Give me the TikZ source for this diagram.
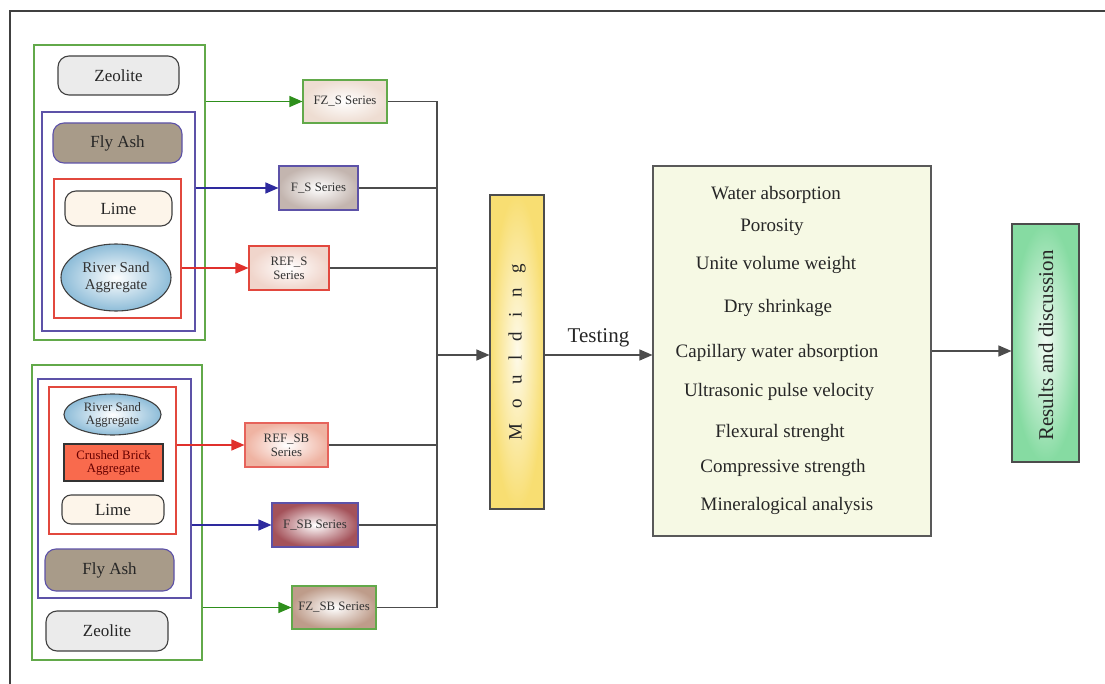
\documentclass[tikz,border=0pt]{standalone}
\usepackage{fontspec}
\setmainfont{Liberation Serif}
\usetikzlibrary{arrows.meta,shapes.geometric}
\definecolor{grn}{HTML}{62A94A}
\definecolor{grnarr}{HTML}{2E8F1C}
\definecolor{blu}{HTML}{5D52A8}
\definecolor{bluarr}{HTML}{2E2A9E}
\definecolor{rd}{HTML}{E2483E}
\definecolor{rdarr}{HTML}{E0302C}
\definecolor{zeo}{HTML}{EBEBEB}
\definecolor{ash}{HTML}{A89B89}
\definecolor{limec}{HTML}{FDF5EA}
\definecolor{brick}{HTML}{F96A4D}
\definecolor{testc}{HTML}{F6F9E4}
\definecolor{sandc}{HTML}{8DBCD8}
\definecolor{mouldc}{HTML}{F8DE72}
\definecolor{resc}{HTML}{86DBA2}
\definecolor{fzsc}{HTML}{EEDDD2}
\definecolor{fsc}{HTML}{C3B5AF}
\definecolor{refsc}{HTML}{F0D5CB}
\definecolor{refsbc}{HTML}{EFB3A2}
\definecolor{fsbc}{HTML}{A4525A}
\definecolor{fzsbc}{HTML}{BE9C8A}
\newcommand\mgap{\hspace{14.5pt}}
\begin{document}
\begin{tikzpicture}[x=1pt,y=-1pt,line width=1.1pt,
  pill/.style={draw=black!75, rounded corners=11pt, inner sep=0pt, font=\fontsize{17}{19}\selectfont, text=black!85},
  sand/.style={ellipse, draw=black!75, inner sep=0pt, shading=radial, inner color=white, outer color=sandc, align=center, text=black!80},
  series/.style={draw, inner sep=0pt, align=center, shading=radial, inner color=white, font=\fontsize{12.8}{14}\selectfont, text=black!80},
  line/.style={draw=black!70},
  arr/.style={-{Triangle[length=13pt,width=11pt]}},
  big/.style={font=\fontsize{19}{21}\selectfont, text=black!85}]
\useasboundingbox (0,0) rectangle (1105,684);
\draw[black!75] (10,684) -- (10,11) -- (1105,11);
% top group
\node[draw=grn, minimum width=171, minimum height=295] (gtop) at (119.5,192.5) {};
\node[draw=blu, minimum width=153, minimum height=219] (btop) at (118.5,221.5) {};
\node[draw=rd, minimum width=127, minimum height=139] (rtop) at (117.5,248.5) {};
\node[pill, fill=zeo, minimum width=121, minimum height=39] (zeotop) at (118.5,75.5) {Zeolite};
\node[pill, draw=blu, fill=ash, minimum width=129, minimum height=40] (ashtop) at (117.5,143) {Fly Ash};
\node[pill, fill=limec, minimum width=107, minimum height=35] (limetop) at (118.5,208.5) {Lime};
\node[sand, minimum width=110, minimum height=67, font=\fontsize{15}{17}\selectfont] (sandtop) at (116,277.5) {River Sand\\Aggregate};
% bottom group
\node[draw=grn, minimum width=170, minimum height=295] (gbot) at (117,512.5) {};
\node[draw=blu, minimum width=153, minimum height=219] (bbot) at (114.5,488.5) {};
\node[draw=rd, minimum width=127, minimum height=147] (rbot) at (112.5,460.5) {};
\node[sand, minimum width=97, minimum height=41, font=\fontsize{12.8}{13}\selectfont] (sandbot) at (112.5,414.5) {River Sand\\Aggregate};
\node[draw=black!80, fill=brick, inner sep=0pt, align=center, minimum width=99, minimum height=37, font=\fontsize{12.8}{13}\selectfont, text=red!40!black] (brickbot) at (113.5,462.5) {Crushed Brick\\Aggregate};
\node[pill, fill=limec, rounded corners=9pt, minimum width=102, minimum height=29] (limebot) at (113,509.5) {Lime};
\node[pill, draw=blu, fill=ash, minimum width=129, minimum height=42] (ashbot) at (109.5,570) {Fly Ash};
\node[pill, fill=zeo, minimum width=122, minimum height=40] (zeobot) at (107,631) {Zeolite};
% series
\node[series, draw=grn, outer color=fzsc, minimum width=84, minimum height=43] (fzs) at (345,101.5) {FZ\_S Series};
\node[series, draw=blu, outer color=fsc, minimum width=79, minimum height=44] (fs) at (318.5,188) {F\_S Series};
\node[series, draw=rd, outer color=refsc, minimum width=80, minimum height=44] (refs) at (289,268) {REF\_S\\Series};
\node[series, draw=rd!85, outer color=refsbc, minimum width=83, minimum height=44] (refsb) at (286.5,445) {REF\_SB\\Series};
\node[series, draw=blu, outer color=fsbc, minimum width=86, minimum height=44] (fsb) at (315,525) {F\_SB Series};
\node[series, draw=grn, outer color=fzsbc, minimum width=84, minimum height=43] (fzsb) at (334,607.5) {FZ\_SB Series};
\path[draw=grnarr,arr] (gtop.east |- fzs) -- (fzs.west);
\path[draw=bluarr,arr] (btop.east |- fs) -- (fs.west);
\path[draw=rdarr,arr] (rtop.east |- refs) -- (refs.west);
\path[draw=rdarr,arr] (rbot.east |- refsb) -- (refsb.west);
\path[draw=bluarr,arr] (bbot.east |- fsb) -- (fsb.west);
\path[draw=grnarr,arr] (gbot.east |- fzsb) -- (fzsb.west);
% collector
\coordinate (bus) at (437,355);
\foreach \s in {fzs,fs,refs,refsb,fsb,fzsb}
  \draw[line] (\s.east) -- (\s.east -| bus);
\draw[line] (fzs.east -| bus) -- (fzsb.east -| bus);
% moulding and testing
\node[draw=black!70, shading=radial, inner color=mouldc!15, outer color=mouldc, minimum width=54, minimum height=314] (mould) at (517,352) {};
\node[rotate=90, font=\fontsize{19}{21}\selectfont, text=black!85] (mtxt) at (517,352) {M\mgap o\mgap u\mgap l\mgap d\mgap i\mgap n\mgap g};
\node[draw=black!65, fill=testc, minimum width=278, minimum height=370] (test) at (792,351) {};
\node[draw=black!70, shading=radial, inner color=resc!12, outer color=resc, minimum width=67, minimum height=238] (res) at (1045.5,343) {};
\node[rotate=90, font=\fontsize{21}{23}\selectfont, text=black!85] (rtxt) at (1046,345.5) {Results and discussion};
\draw[line,arr] (bus) -- (mould.west |- bus);
\draw[line,arr] (mould.east |- bus) -- (test.west |- bus) node[midway, above=4pt, font=\fontsize{21}{23}\selectfont, text=black!85] (testing) {Testing};
\draw[line,arr] (test.east) -- (test.east -| res.west);
\foreach \x/\y/\t [count=\i] in {776/195/Water absorption, 772/227/Porosity, 776/265/Unite volume weight, 778/308/Dry shrinkage, 777/353/Capillary water absorption, 779/392/Ultrasonic pulse velocity, 780/433/Flexural strenght, 783/468/Compressive strength, 787/506/Mineralogical analysis}
  \node[big] (t\i) at (\x,\y) {\t};
\end{tikzpicture}
\end{document}
